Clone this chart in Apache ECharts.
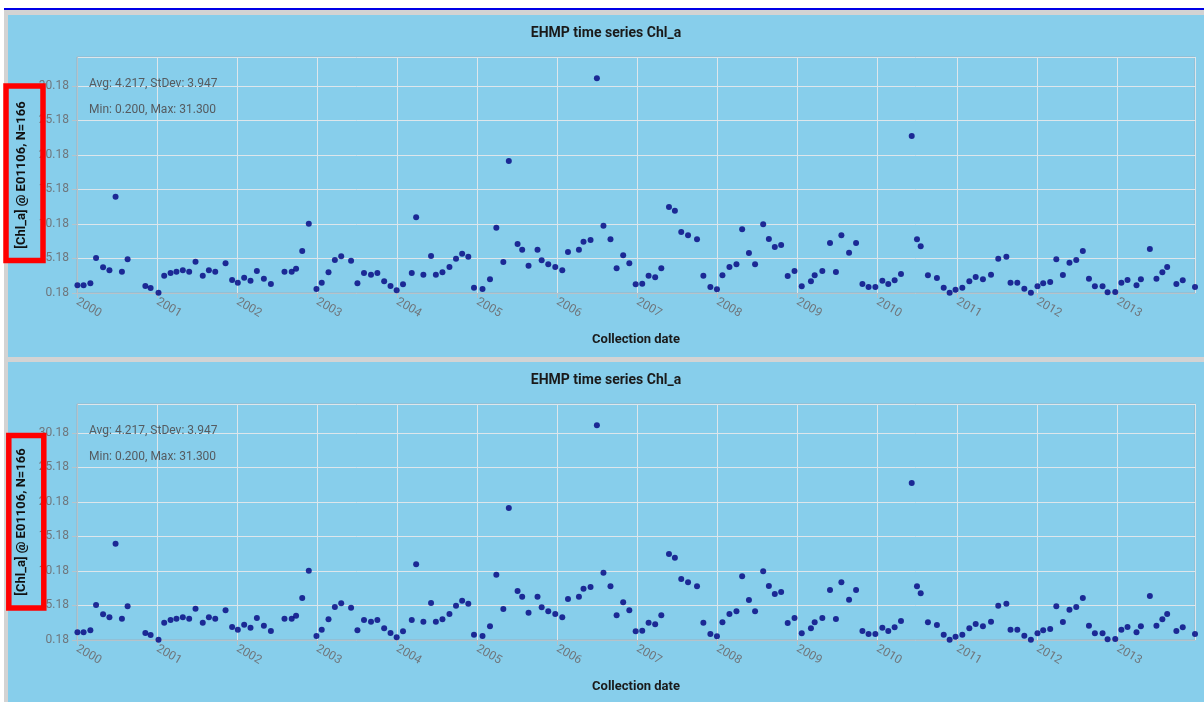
<!DOCTYPE html>
<html>
<head>
<meta charset="utf-8">
<title>EHMP time series Chl_a</title>
<script src="https://cdn.jsdelivr.net/npm/echarts@6/dist/echarts.min.js"></script>
<style>
  html, body { margin: 0; padding: 0; background: #fff; width: 1204px; height: 702px; overflow: hidden; }
  #frame { position: absolute; left: 4px; top: 8px; right: 0; bottom: 0; border-top: 2px solid #0000e6; background: #d3d3d3; }
  .panel { position: absolute; left: 8px; right: 0; background: #87ceeb; }
  #p1 { top: 15px; height: 342px; }
  #p2 { top: 362px; height: 342px; }
  #chart { position: absolute; left: 0; top: 0; width: 1204px; height: 702px; }
</style>
</head>
<body>
<div id="frame"></div>
<div class="panel" id="p1"></div>
<div class="panel" id="p2"></div>
<div id="chart"></div>
<script>
// Chlorophyll-a samples at station E01106 (collection date, concentration)
const dates = [
  '2000-01-03','2000-01-31','2000-03-02','2000-03-28','2000-04-29','2000-05-28','2000-06-25','2000-07-24','2000-08-19','2000-11-08','2000-12-02',
  '2001-01-07','2001-02-02','2001-03-03','2001-03-30','2001-04-28','2001-05-27','2001-06-25','2001-07-28','2001-08-25','2001-09-23','2001-11-09','2001-12-09',
  '2002-01-04','2002-02-02','2002-03-03','2002-04-01','2002-05-03','2002-06-04','2002-08-05','2002-09-07','2002-09-27','2002-10-25','2002-11-24','2002-12-29',
  '2003-01-22','2003-02-22','2003-03-23','2003-04-21','2003-06-05','2003-07-04','2003-08-03','2003-09-04','2003-10-03','2003-11-03','2003-12-02','2003-12-30',
  '2004-01-28','2004-03-08','2004-03-28','2004-04-30','2004-06-04','2004-06-26','2004-07-26','2004-08-27','2004-09-26','2004-10-24','2004-11-21','2004-12-17',
  '2005-01-25','2005-02-28','2005-03-29','2005-04-30','2005-05-25','2005-07-04','2005-07-25','2005-08-23','2005-10-03','2005-10-22','2005-11-21','2005-12-23',
  '2006-01-24','2006-02-19','2006-04-10','2006-05-01','2006-06-02','2006-07-01','2006-07-31','2006-09-01','2006-09-29','2006-10-29','2006-11-26','2006-12-25',
  '2007-01-24','2007-02-22','2007-03-24','2007-04-21','2007-05-26','2007-06-22','2007-07-21','2007-08-21','2007-10-01','2007-10-30','2007-12-01','2007-12-31',
  '2008-01-25','2008-02-26','2008-03-29','2008-04-24','2008-05-25','2008-06-22','2008-07-29','2008-08-24','2008-09-20','2008-10-19','2008-11-18','2008-12-19',
  '2009-01-21','2009-03-04','2009-03-21','2009-04-25','2009-05-30','2009-06-26','2009-07-21','2009-08-25','2009-09-26','2009-10-25','2009-11-22','2009-12-23',
  '2010-01-24','2010-02-20','2010-03-21','2010-04-19','2010-06-07','2010-07-01','2010-07-18','2010-08-20','2010-09-30','2010-10-31','2010-11-27','2010-12-24',
  '2011-01-24','2011-02-25','2011-03-26','2011-04-28','2011-06-04','2011-07-07','2011-08-13','2011-09-01','2011-10-02','2011-11-03','2011-12-03',
  '2012-01-02','2012-01-28','2012-02-29','2012-03-28','2012-04-27','2012-05-27','2012-06-27','2012-07-27','2012-08-24','2012-09-20','2012-10-25','2012-11-17','2012-12-22',
  '2013-01-19','2013-02-16','2013-03-29','2013-04-18','2013-05-29','2013-06-28','2013-07-25','2013-08-16','2013-09-27','2013-10-26','2013-12-21'
];
const chla = [
  1.29, 1.29, 1.58, 5.25, 3.90, 3.47, 14.14, 3.27, 5.06, 1.19, 0.90,
  0.23, 2.69, 3.08, 3.27, 3.47, 3.27, 4.72, 2.69, 3.47, 3.27, 4.48, 2.06,
  1.68, 2.40, 1.97, 3.37, 2.26, 1.48, 3.27, 3.27, 3.71, 6.27, 10.23, 0.76,
  1.68, 3.18, 4.96, 5.49, 4.87, 1.58, 3.08, 2.84, 3.08, 1.87, 1.19, 0.57,
  1.44, 3.08, 11.15, 2.84, 5.54, 2.84, 3.18, 3.95, 5.16, 5.88, 5.45, 0.95,
  0.76, 2.16, 9.65, 4.67, 19.31, 7.28, 6.46, 4.14, 6.46, 4.91, 4.33, 3.95,
  3.47, 6.12, 6.46, 7.62, 7.86, 31.30, 9.94, 7.96, 3.75, 5.64, 4.48, 1.44,
  1.53, 2.69, 2.45, 3.75, 12.64, 12.11, 9.02, 8.54, 7.96, 2.69, 1.05, 0.71,
  2.74, 3.95, 4.33, 9.41, 5.98, 4.33, 10.13, 8.01, 6.85, 7.14, 2.64, 3.37,
  1.15, 1.87, 2.74, 3.37, 7.42, 3.22, 8.54, 6.03, 7.42, 1.48, 1.05, 1.05,
  1.97, 1.48, 2.02, 2.93, 22.93, 7.96, 6.94, 2.74, 2.35, 0.95, 0.20, 0.66,
  0.95, 1.87, 2.50, 2.16, 2.84, 5.16, 5.45, 1.68, 1.68, 0.81, 0.23,
  1.15, 1.58, 1.77, 5.06, 2.79, 4.58, 4.96, 6.27, 2.26, 1.15, 1.15, 0.28, 0.32,
  1.68, 2.06, 1.29, 2.16, 6.56, 2.26, 3.18, 3.95, 1.48, 2.02, 1.05
];

const chartTitle = 'EHMP time series Chl_a';
const yAxisName = '[Chl_a] @ E01106, N=166';
const xAxisName = 'Collection date';
const statLines = ['Avg: 4.217, StDev: 3.947', 'Min: 0.200, Max: 31.300'];

// value axis: ticks start at the minimum and step by 5
const yMin = 0.18;
const yMax = 34.38;
const yStep = 5;
const xStart = '2000-01-01';

const FONT = 'Roboto, "Noto Sans", sans-serif';
const LABEL = '#6f767c';
const ONE_YEAR = 365.25 * 24 * 3600 * 1000;

const chart = echarts.init(document.getElementById('chart'), null, { renderer: 'canvas' });

const points = dates.map((d, i) => [d, chla[i]]);
const panelShift = [0, 347];

const grids = [], xAxes = [], yAxes = [], series = [], graphics = [];

panelShift.forEach((dy, k) => {
  grids.push({
    left: 77, top: 57 + dy, width: 1118, height: 236,
    show: true, borderColor: '#98b3c3', borderWidth: 1, backgroundColor: 'transparent'
  });
  xAxes.push({
    type: 'time', gridIndex: k,
    min: xStart, max: 'dataMax',
    minInterval: ONE_YEAR, maxInterval: ONE_YEAR,
    name: xAxisName, nameLocation: 'middle', nameGap: 40,
    nameTextStyle: { fontFamily: FONT, fontWeight: 'bold', fontSize: 13, color: '#1a1a1a' },
    axisLine: { show: true, lineStyle: { color: '#b7c2c9', width: 1 } },
    axisTick: { show: true, length: 5, lineStyle: { color: '#b7c2c9' } },
    axisLabel: {
      formatter: '{yyyy}', rotate: -30, margin: 8,
      color: LABEL, fontFamily: FONT, fontSize: 12,
      showMaxLabel: false, hideOverlap: false
    },
    splitLine: { show: true, lineStyle: { color: '#dde6eb', width: 1 } }
  });
  yAxes.push({
    type: 'value', gridIndex: k,
    min: yMin, max: yMax, interval: yStep,
    name: yAxisName, nameLocation: 'middle', nameGap: 45,
    nameTextStyle: { fontFamily: FONT, fontWeight: 'bold', fontSize: 13, color: '#111' },
    axisLine: { show: true, lineStyle: { color: '#b7c2c9', width: 1 } },
    axisTick: { show: true, length: 5, lineStyle: { color: '#b7c2c9' } },
    axisLabel: {
      formatter: v => v.toFixed(2), showMaxLabel: false,
      color: LABEL, fontFamily: FONT, fontSize: 12, margin: 8
    },
    splitLine: { show: true, lineStyle: { color: '#dde6eb', width: 1 } }
  });
  series.push({
    type: 'scatter', xAxisIndex: k, yAxisIndex: k,
    data: points, symbol: 'circle', symbolSize: 6,
    itemStyle: { color: '#000080' }, silent: true
  });

  graphics.push({
    type: 'text', x: 606, y: 33 + dy, z: 50,
    style: { text: chartTitle, font: 'bold 14px ' + FONT, fill: '#1a1a1a', textAlign: 'center', textVerticalAlign: 'middle' }
  });
  statLines.forEach((line, j) => {
    graphics.push({
      type: 'text', x: 89, y: 84 + j * 26 + dy, z: 50,
      style: { text: line, font: '12px ' + FONT, fill: '#555b60', textAlign: 'left', textVerticalAlign: 'middle' }
    });
  });
});

// red highlight frames around the y-axis titles
graphics.push({
  type: 'rect', z: 100,
  shape: { x: 6, y: 86, width: 37, height: 174.5 },
  style: { fill: 'none', stroke: '#ff0000', lineWidth: 5.5 }
});
graphics.push({
  type: 'rect', z: 100,
  shape: { x: 8.8, y: 435.5, width: 35, height: 172.5 },
  style: { fill: 'none', stroke: '#ff0000', lineWidth: 5.5 }
});

chart.setOption({
  animation: false,
  backgroundColor: 'transparent',
  textStyle: { fontFamily: FONT },
  grid: grids,
  xAxis: xAxes,
  yAxis: yAxes,
  series: series,
  graphic: graphics
});
</script>
</body>
</html>
